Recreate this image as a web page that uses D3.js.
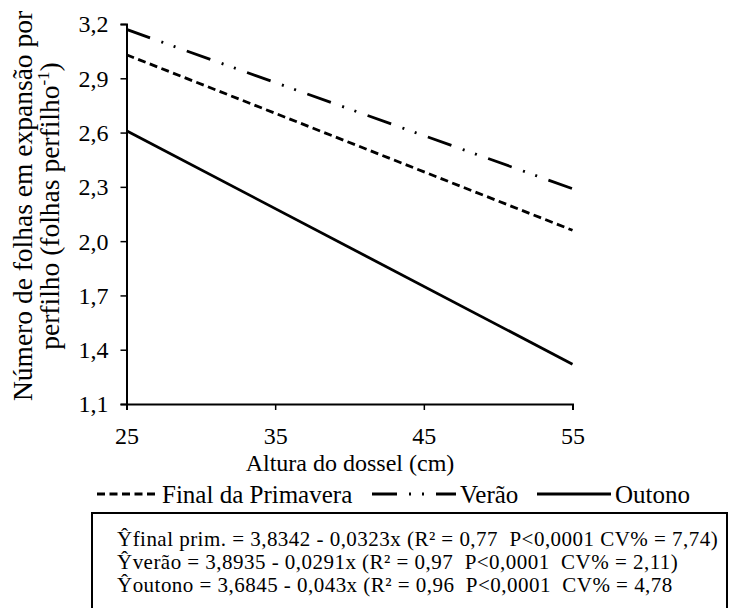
<!DOCTYPE html>
<html>
<head>
  <meta charset="utf-8">
  <script src="https://cdn.jsdelivr.net/npm/d3@7/dist/d3.min.js"></script>
  <style>
    svg text, svg tspan { font-family: 'Liberation Serif' !important; }
  </style>
</head>
<body style="margin:0">
  <script>
    var width = 740, height = 608;

    // data
    var alturas = [25, 55];
    var finalPrim = [3.03, 2.06];
    var verao = [3.17, 2.29];
    var outono = [2.61, 1.32];
    var xTicks = [25, 35, 45, 55];
    var yTicks = [1.1, 1.4, 1.7, 2.0, 2.3, 2.6, 2.9, 3.2];
    var seriesNames = ["Final da Primavera", "Verão", "Outono"];
    var equacoes = [
      "Ŷfinal prim. = 3,8342 - 0,0323x (R² = 0,77  P<0,0001 CV% = 7,74)",
      "Ŷverão = 3,8935 - 0,0291x (R² = 0,97  P<0,0001  CV% = 2,11)",
      "Ŷoutono = 3,6845 - 0,043x (R² = 0,96  P<0,0001  CV% = 4,78"
    ];

    var FONT = "Liberation Serif";

    var series = [
      {name: seriesNames[0], values: finalPrim, dash: "8,4.5"},
      {name: seriesNames[1], values: verao, dash: "25,12,2,11,2,12"},
      {name: seriesNames[2], values: outono, dash: null}
    ];

    var svg = d3.select("body")
      .append("svg")
      .attr("width", width)
      .attr("height", height)
      .attr("font-family", FONT);

    var x = d3.scaleLinear().domain([25, 55]).range([126.5, 572.5]);
    var y = d3.scaleLinear().domain([1.1, 3.2]).range([404, 24]);

    var fmt = function(d) { return d3.format(".1f")(d).replace(".", ","); };

    // axes
    var xAxis = svg.append("g")
      .attr("transform", "translate(0," + y(1.1) + ")")
      .call(d3.axisBottom(x).tickValues(xTicks).tickSize(6).tickPadding(0).tickFormat(d3.format("d")));
    var yAxis = svg.append("g")
      .attr("transform", "translate(" + x(25) + ",0)")
      .call(d3.axisLeft(y).tickValues(yTicks).tickSize(6).tickPadding(12).tickFormat(fmt));

    [xAxis, yAxis].forEach(function(a) {
      a.attr("font-family", FONT).attr("font-size", 24);
      a.select(".domain").attr("stroke", "#000").attr("stroke-width", 2);
      a.selectAll(".tick line").attr("stroke", "#000").attr("stroke-width", 1.5);
      a.selectAll(".tick text").attr("font-family", FONT).attr("fill", "#000");
    });
    xAxis.selectAll(".tick text").attr("y", 40).attr("dy", null);
    yAxis.selectAll(".tick text").attr("dy", "0.33em");

    // lines
    var line = d3.line()
      .x(function(d, i) { return x(alturas[i]); })
      .y(function(d) { return y(d); });

    svg.append("g")
      .selectAll("path")
      .data(series)
      .enter().append("path")
      .attr("d", function(d) { return line(d.values); })
      .attr("fill", "none")
      .attr("stroke", "#000")
      .attr("stroke-width", 2.8)
      .attr("stroke-dasharray", function(d) { return d.dash; });

    // axis titles
    svg.append("text")
      .attr("x", 350).attr("y", 471)
      .attr("text-anchor", "middle")
      .attr("font-family", FONT)
      .attr("font-size", 24)
      .text("Altura do dossel (cm)");

    var yt = svg.append("text")
      .attr("transform", "translate(0,206) rotate(-90)")
      .attr("text-anchor", "middle")
      .attr("font-family", FONT)
      .attr("font-size", 27.5);
    yt.append("tspan").attr("x", 0).attr("y", 32).text("Número de folhas em expansão por");
    var l2 = yt.append("tspan").attr("x", 0).attr("y", 59);
    l2.append("tspan").text("perfilho (folhas perfilho");
    l2.append("tspan").attr("dy", -10).attr("font-size", 17).text("-1");
    l2.append("tspan").attr("dy", 10).text(")");

    // legend
    var legendItems = [
      {s: series[0], x1: 97, x2: 159, tx: 162},
      {s: series[1], x1: 372, x2: 456, tx: 460},
      {s: series[2], x1: 537, x2: 611, tx: 615}
    ];
    var lg = svg.append("g").selectAll("g").data(legendItems).enter().append("g");
    lg.append("line")
      .attr("x1", function(d) { return d.x1; })
      .attr("x2", function(d) { return d.x2; })
      .attr("y1", 494).attr("y2", 494)
      .attr("stroke", "#000")
      .attr("stroke-width", 2.8)
      .attr("stroke-dasharray", function(d) { return d.s.dash; });
    lg.append("text")
      .attr("x", function(d) { return d.tx; })
      .attr("y", 503)
      .attr("font-family", FONT)
      .attr("font-size", 25)
      .text(function(d) { return d.s.name; });

    // equations box
    svg.append("rect")
      .attr("x", 92).attr("y", 513)
      .attr("width", 635).attr("height", 120)
      .attr("fill", "none")
      .attr("stroke", "#000")
      .attr("stroke-width", 2);

    svg.append("g").selectAll("text")
      .data(equacoes)
      .enter().append("text")
      .attr("x", 117)
      .attr("y", function(d, i) { return 546 + i * 23; })
      .attr("font-family", FONT)
      .attr("font-size", 21)
      .attr("letter-spacing", 0.47)
      .style("white-space", "pre")
      .text(function(d) { return d; });
  </script>
</body>
</html>
